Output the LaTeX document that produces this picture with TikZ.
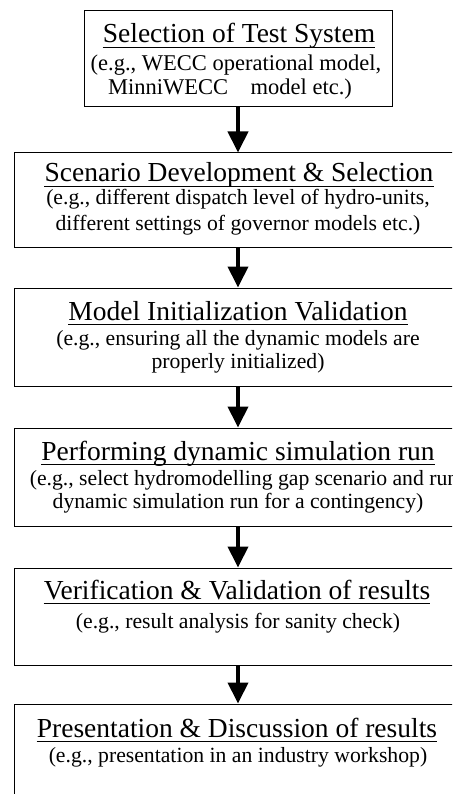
\documentclass[tikz,border=0pt]{standalone}
\usepackage{fontspec}
\setmainfont{Liberation Serif}
\usetikzlibrary{arrows.meta}

\tikzset{
  stage/.style={draw=black, line width=1pt, rectangle, inner sep=0pt},
  heading/.style={anchor=base, inner sep=0pt, font=\fontsize{27.5}{30}\selectfont},
  note/.style={anchor=base, inner sep=0pt, font=\fontsize{21.7}{24}\selectfont},
  bignote/.style={note, font=\fontsize{22.5}{24}\selectfont},
  uline/.style={line width=1.3pt},
  flow/.style={line width=4pt, -{Triangle[width=20pt,length=21pt]}}
}

% draws the underline below a heading node
\newcommand{\ulineunder}[1]{%
  \draw[uline] ([yshift=-4.5pt]#1.base west) -- ([yshift=-4.5pt]#1.base east);}

\begin{document}
\begin{tikzpicture}[x=1pt, y=-1pt]
\useasboundingbox (0,0) rectangle (452,794);
\clip (0,0) rectangle (452,794);

% stage boxes
\node[stage, minimum width=308pt, minimum height=96pt] (b1) at (238,59) {};
\node[stage, minimum width=448pt, minimum height=94pt] (b2) at (238,200) {};
\node[stage, minimum width=448pt, minimum height=98pt] (b3) at (238,337) {};
\node[stage, minimum width=448pt, minimum height=98pt] (b4) at (238,477) {};
\node[stage, minimum width=448pt, minimum height=97pt] (b5) at (238,616.5) {};
\node[stage, minimum width=448pt, minimum height=96pt] (b6) at (238,752) {};

% stage 1
\node[heading] (h1) at (239,43) {Selection of Test System};
\ulineunder{h1}
\node[bignote] (n1a) at (236,71) {(e.g., WECC operational model,};
\node[bignote] (n1b) at (230,95) {MinniWECC\hspace{1em}model etc.)};

% stage 2
\node[heading] (h2) at (239,182) {Scenario Development \& Selection};
\ulineunder{h2}
\node[note] (n2a) at (238,205) {(e.g., different dispatch level of hydro-units,};
\node[note] (n2b) at (238,230) {different settings of governor models etc.)};

% stage 3
\node[heading] (h3) at (238,320) {Model Initialization Validation};
\ulineunder{h3}
\node[note] (n3a) at (238,345) {(e.g., ensuring all the dynamic models are};
\node[note] (n3b) at (238,368) {properly initialized)};

% stage 4
\node[heading] (h4) at (238,460) {Performing dynamic simulation run};
\ulineunder{h4}
\node[note] (n4a) at (244,485) {(e.g., select hydromodelling gap scenario and run};
\node[note] (n4b) at (238,508) {dynamic simulation run for a contingency)};

% stage 5
\node[heading] (h5) at (237,599) {Verification \& Validation of results};
\ulineunder{h5}
\node[note] (n5a) at (238,628) {(e.g., result analysis for sanity check)};

% stage 6
\node[heading] (h6) at (237,737) {Presentation \& Discussion of results};
\ulineunder{h6}
\node[note] (n6a) at (238,762) {(e.g., presentation in an industry workshop)};

% flow arrows
\draw[flow] (b1.south) -- (b2.north);
\draw[flow] (b2.south) -- (b3.north);
\draw[flow] (b3.south) -- (b4.north);
\draw[flow] (b4.south) -- (b5.north);
\draw[flow] (b5.south) -- (b6.north);
\end{tikzpicture}
\end{document}
